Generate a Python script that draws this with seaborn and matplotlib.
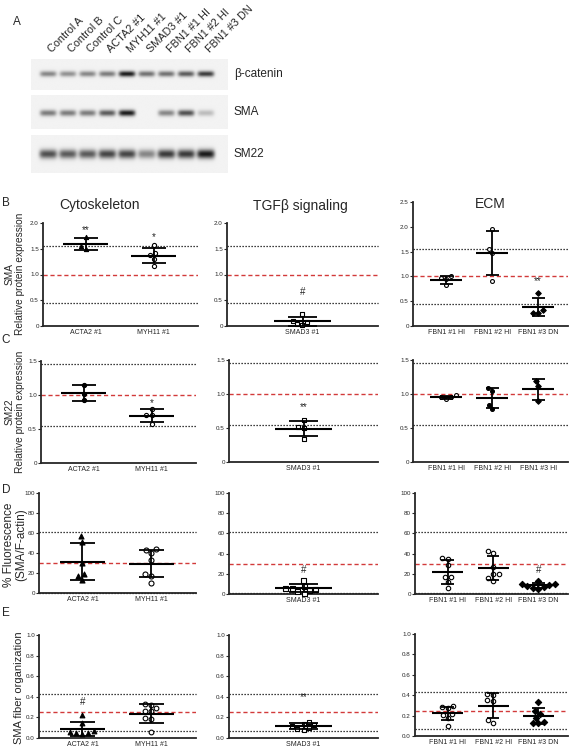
import warnings
import numpy as np
import pandas as pd
import matplotlib.pyplot as plt
import seaborn as sns

warnings.filterwarnings("ignore")
sns.set_style("ticks")
plt.rcParams['font.family'] = ['Liberation Sans', 'DejaVu Sans']

W, H = 570, 749

# ---- panel A: western blot band intensities (relative darkness) ----
lanes = ["Control A", "Control B", "Control C", "ACTA2 #1", "MYH11 #1",
         "SMAD3 #1", "FBN1 #1 HI", "FBN1 #2 HI", "FBN1 #3 DN"]
bcat_band = [0.50, 0.45, 0.50, 0.55, 1.00, 0.60, 0.60, 0.70, 0.85]
sma_band = [0.55, 0.55, 0.55, 0.70, 1.00, 0.00, 0.50, 0.75, 0.25]
sm22_band = [0.75, 0.70, 0.70, 0.80, 0.80, 0.50, 0.85, 0.85, 1.00]

# ---- quantification groups ----
cyto_groups = ["ACTA2 #1", "MYH11 #1"]
tgf_groups = ["SMAD3 #1"]
ecm_groups = ["FBN1 #1 HI", "FBN1 #2 HI", "FBN1 #3 DN"]
ecm_groups_c = ["FBN1 #1 HI", "FBN1 #2 HI", "FBN1 #3 HI"]

# B: SMA relative protein expression
sma_acta2 = [1.72, 1.55, 1.50]
sma_myh11 = [1.57, 1.42, 1.38, 1.30, 1.17]
sma_smad3 = [0.24, 0.10, 0.07, 0.04, 0.02]
sma_fbn1_1 = [1.00, 0.96, 0.95, 0.82]
sma_fbn1_2 = [1.96, 1.56, 1.48, 0.90]
sma_fbn1_3 = [0.66, 0.32, 0.27, 0.27]
sma_ref = [1.55, 0.45]

# C: SM22 relative protein expression
sm22_acta2 = [1.15, 1.02, 0.92]
sm22_myh11 = [0.80, 0.71, 0.70, 0.57]
sm22_smad3 = [0.62, 0.51, 0.50, 0.34]
sm22_fbn1_1 = [0.98, 0.96, 0.95, 0.92]
sm22_fbn1_2 = [1.09, 1.04, 0.84, 0.78]
sm22_fbn1_3 = [1.19, 1.12, 0.90]
sm22_ref = [1.45, 0.55]

# D: % fluorescence (SMA/F-actin)
fluo_acta2 = [57, 51, 30, 19, 17, 13]
fluo_myh11 = [44, 43, 40, 33, 19, 17, 10]
fluo_smad3 = [14, 8, 6, 6, 5, 4, 3, 1]
fluo_fbn1_1 = [36, 35, 29, 17, 17, 12, 6]
fluo_fbn1_2 = [43, 41, 27, 20, 20, 16, 13]
fluo_fbn1_3 = [13, 10, 10, 9, 8, 7, 6, 5]
fluo_ref = [61, 0.5]

# E: SMA fiber organization
fiber_acta2 = [0.22, 0.15, 0.07, 0.06, 0.05, 0.05, 0.04]
fiber_myh11 = [0.33, 0.32, 0.29, 0.26, 0.26, 0.19, 0.18, 0.06]
fiber_smad3 = [0.16, 0.14, 0.13, 0.12, 0.10, 0.09, 0.08]
fiber_fbn1_1 = [0.29, 0.28, 0.27, 0.22, 0.21, 0.18, 0.10]
fiber_fbn1_2 = [0.41, 0.40, 0.35, 0.34, 0.16, 0.13]
fiber_fbn1_3 = [0.33, 0.25, 0.22, 0.18, 0.14, 0.13, 0.13]
fiber_ref = [0.43, 0.07]


fig = plt.figure(figsize=(W / 100, H / 100), dpi=100)


def px_rect(x0, x1, ytop, ybot):
    return [x0 / W, 1 - ybot / H, (x1 - x0) / W, (ybot - ytop) / H]


def ftext(x, y, s, **kw):
    fig.text(x / W, 1 - y / H, s, **kw)


# ---------------- panel A ----------------
def blot(rect, bands, half_w, sig_y, yc):
    ax = fig.add_axes(px_rect(*rect))
    xs = np.linspace(-0.86, 9.11, 300)
    ys = np.linspace(0, 1, 80)
    img = np.full((len(ys), len(xs)), 0.95)
    for i, b in enumerate(bands):
        px = np.exp(-np.abs((xs - i) / half_w) ** 5)
        py = np.exp(-0.5 * ((ys - yc) / sig_y) ** 2)
        img -= 0.85 * b * np.outer(py, px)
    ax.imshow(np.clip(img, 0, 1), cmap='gray', vmin=0, vmax=1, aspect='auto',
              extent=(-0.86, 9.11, 1, 0), interpolation='bilinear')
    ax.set_axis_off()
    return ax


ax_b = blot((31, 228, 59, 90), bcat_band, 0.42, 0.065, 0.48)
blot((31, 228, 95, 129), sma_band, 0.42, 0.065, 0.53)
blot((31, 228, 135, 173), sm22_band, 0.45, 0.085, 0.50)
for i, lab in enumerate(lanes):
    ax_b.text(i + 0.2, 1.2, lab, transform=ax_b.get_xaxis_transform(),
              rotation=45, rotation_mode='anchor', ha='left', va='baseline', fontsize=7.8)
ftext(234, 74, "β-catenin", fontsize=8.5, va='center')
ftext(234, 112, "SMA", fontsize=8.5, va='center')
ftext(234, 154, "SM22", fontsize=8.5, va='center')
ftext(13, 22, "A", fontsize=8.5, va='center')


# ---------------- quantification panels ----------------
def quant(rect, groups, values, styles, ylim, yticks, ytl, ref, ctrl, marks,
          xlim, hw, cw, size):
    ax = fig.add_axes(px_rect(*rect))
    df = pd.DataFrame({'grp': np.repeat(groups, [len(v) for v in values]),
                       'val': np.concatenate([np.asarray(v, float) for v in values])})
    for g, (mk, filled) in zip(groups, styles):
        sns.swarmplot(data=df[df.grp == g], x='grp', y='val', order=groups, ax=ax,
                      marker=mk, size=size, color='black' if filled else 'white',
                      edgecolor='black', linewidth=0.8, clip_on=False, zorder=3)
    for i, v in enumerate(values):
        m, s = np.mean(v), np.std(v, ddof=1)
        ax.vlines(i, m - s, m + s, color='black', lw=1.3, zorder=4, clip_on=False)
        ax.hlines([m - s, m + s], i - cw, i + cw, color='black', lw=1.3, zorder=4, clip_on=False)
        ax.hlines(m, i - hw, i + hw, color='black', lw=1.5, zorder=4, clip_on=False)
    for r in ref:
        ax.axhline(r, color='black', lw=0.9, ls=(0, (1, 1.4)), zorder=2, clip_on=False)
    ax.axhline(ctrl, color='#d23a3a', lw=1.0, ls=(0, (3, 2)), zorder=2)
    for txt, gi, y in marks:
        ax.text(gi, y, txt, ha='center', va='center', fontsize=7)
    ax.set_xlim(*xlim)
    ax.set_ylim(*ylim)
    ax.set_yticks(yticks)
    ax.set_yticklabels(ytl)
    ax.set_xticks(range(len(groups)))
    ax.set_xticklabels(groups)
    ax.set_xlabel('')
    ax.set_ylabel('')
    ax.tick_params(axis='y', labelsize=4.5, length=2, width=0.8, pad=1)
    ax.tick_params(axis='x', labelsize=5, length=0, pad=2)
    sns.despine(ax=ax)
    for sp in ('left', 'bottom'):
        ax.spines[sp].set_linewidth(1.3)
    ax.patch.set_alpha(0)
    return ax


COL = {
    'cyto': dict(xlim=(-0.63, 1.65), hw=0.33, cw=0.18),
    'tgf': dict(xlim=(-1.0, 1.0), hw=0.38, cw=0.19),
    'ecm': dict(xlim=(-0.72, 2.65), hw=0.34, cw=0.14),
}

# row B
t2 = [0, 0.5, 1.0, 1.5, 2.0]
t2l = ["0", "0.5", "1.0", "1.5", "2.0"]
quant((43, 198, 223, 326), cyto_groups, [sma_acta2, sma_myh11], [('^', True), ('o', False)],
      (0, 2), t2, t2l, sma_ref, 1.0, [("**", 0, 1.86), ("*", 1, 1.73)], size=3, **COL['cyto'])
quant((227, 378, 223, 326), tgf_groups, [sma_smad3], [('s', False)],
      (0, 2), t2, t2l, sma_ref, 1.0, [("#", 0, 0.66)], size=3, **COL['tgf'])
quant((413, 568, 202, 326), ecm_groups, [sma_fbn1_1, sma_fbn1_2, sma_fbn1_3],
      [('o', False), ('o', False), ('D', True)],
      (0, 2.5), t2 + [2.5], t2l + ["2.5"], sma_ref, 1.0, [("**", 2, 0.90)], size=2.8, **COL['ecm'])

# row C
t15 = [0, 0.5, 1.0, 1.5]
t15l = ["0", "0.5", "1.0", "1.5"]
quant((41, 196, 361, 463), cyto_groups, [sm22_acta2, sm22_myh11], [('o', True), ('o', False)],
      (0, 1.5), t15, t15l, sm22_ref, 1.0, [("*", 1, 0.88)], size=3, **COL['cyto'])
quant((229, 378, 360, 462), tgf_groups, [sm22_smad3], [('s', False)],
      (0, 1.5), t15, t15l, sm22_ref, 1.0, [("**", 0, 0.81)], size=3, **COL['tgf'])
quant((413, 568, 360, 462), ecm_groups_c, [sm22_fbn1_1, sm22_fbn1_2, sm22_fbn1_3],
      [('o', False), ('o', True), ('D', True)],
      (0, 1.5), t15, t15l, sm22_ref, 1.0, [], size=2.8, **COL['ecm'])

# row D
t100 = [0, 20, 40, 60, 80, 100]
t100l = [str(t) for t in t100]
quant((39, 196, 493, 593), cyto_groups, [fluo_acta2, fluo_myh11], [('^', True), ('o', False)],
      (0, 100), t100, t100l, fluo_ref, 30, [], size=3.6, **COL['cyto'])
quant((229, 378, 493, 594), tgf_groups, [fluo_smad3], [('s', False)],
      (0, 100), t100, t100l, fluo_ref, 30, [("#", 0, 24)], size=3.6, **COL['tgf'])
quant((415, 568, 493, 594), ecm_groups, [fluo_fbn1_1, fluo_fbn1_2, fluo_fbn1_3],
      [('o', False), ('o', False), ('D', True)],
      (0, 100), t100, t100l, fluo_ref, 30, [("#", 2, 24)], size=3.2, **COL['ecm'])

# row E
t1 = [0, 0.2, 0.4, 0.6, 0.8, 1.0]
t1l = ["0.0", "0.2", "0.4", "0.6", "0.8", "1.0"]
quant((39, 196, 635, 738), cyto_groups, [fiber_acta2, fiber_myh11], [('^', True), ('o', False)],
      (0, 1), t1, t1l, fiber_ref, 0.25, [("#", 0, 0.35)], size=3.4, **COL['cyto'])
quant((229, 378, 635, 738), tgf_groups, [fiber_smad3], [('s', False)],
      (0, 1), t1, t1l, fiber_ref, 0.25, [("**", 0, 0.40)], size=3.4, **COL['tgf'])
quant((415, 568, 634, 736), ecm_groups, [fiber_fbn1_1, fiber_fbn1_2, fiber_fbn1_3],
      [('o', False), ('o', False), ('D', True)],
      (0, 1), t1, t1l, fiber_ref, 0.25, [], size=3.2, **COL['ecm'])

# titles, row letters and y labels
ftext(100, 205, "Cytoskeleton", fontsize=10, ha='center', va='center')
ftext(300, 206, "TGFβ signaling", fontsize=10, ha='center', va='center')
ftext(490, 204, "ECM", fontsize=10, ha='center', va='center')
for lab, y in (("B", 203), ("C", 340), ("D", 490), ("E", 613)):
    ftext(6, y, lab, fontsize=8.5, va='center', ha='center')
ftext(15, 274, "SMA\nRelative protein expression", fontsize=7.3, rotation=90,
      ha='center', va='center', linespacing=1.1)
ftext(15, 412, "SM22\nRelative protein expression", fontsize=7.3, rotation=90,
      ha='center', va='center', linespacing=1.1)
ftext(15, 545, "% Fluorescence\n(SMA/F-actin)", fontsize=8.5, rotation=90,
      ha='center', va='center', linespacing=1.1)
ftext(19, 688, "SMA fiber organization", fontsize=8, rotation=90, ha='center', va='center')

fig.savefig("out.png", dpi=100)
